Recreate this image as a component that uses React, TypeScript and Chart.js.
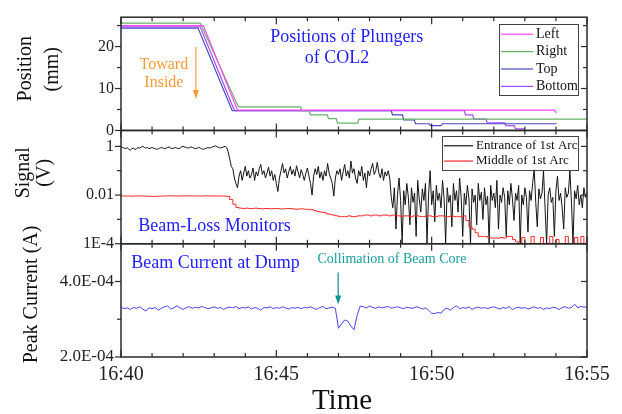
import React, { useEffect, useRef } from 'react';
import { Chart, registerables } from 'chart.js';

Chart.register(...registerables);

const SERIF = "'Liberation Serif', 'Times New Roman', Times, serif";

// ---------- shared x axis (minutes after 16:40) ----------
const xTickValues = [0, 5, 10, 15];
const xTickLabels = ['16:40', '16:45', '16:50', '16:55'];
const xMinorTicks = [1, 2, 3, 4, 6, 7, 8, 9, 11, 12, 13, 14];

// ---------- panel 1: plunger positions (mm) ----------
const posTicks = [0, 10, 20];
const posTickLabels = ['0', '10', '20'];
const posMinorTicks = [5, 15, 25];
const plungerNames = ['Left', 'Right', 'Top', 'Bottom'];
const plungerColors = ['#ff45ff', '#66b366', '#4848c4', '#a64dff'];
const leftTimes = [0, 2.65, 3.75, 13.95, 14.0];
const leftPos = [25.0, 25.0, 4.85, 4.85, 4.2];
const rightTimes = [0, 2.55, 3.78, 5.78, 5.82, 6.05, 6.1, 6.64, 6.68, 6.93, 6.97, 7.62, 7.66, 15];
const rightPos = [25.6, 25.6, 5.6, 5.6, 4.7, 4.7, 3.7, 3.7, 2.8, 2.8, 1.75, 1.75, 2.7, 2.7];
const topTimes = [0, 2.48, 3.58, 8.7, 8.74, 9.06, 9.1, 9.44, 9.48, 9.92, 9.96, 10.3, 10.34, 14.02];
const topPos = [24.4, 24.4, 4.7, 4.7, 3.7, 3.7, 2.5, 2.5, 1.6, 1.6, 1.15, 1.15, 1.6, 1.6];
const bottomTimes = [0, 2.55, 3.65, 11.05, 11.09, 11.32, 11.36, 11.75, 11.79, 12.35, 12.39, 12.66, 12.7, 13.0];
const bottomPos = [24.7, 24.7, 4.75, 4.75, 3.7, 3.7, 2.7, 2.7, 1.8, 1.8, 1.15, 1.15, 0.4, 0.4];

// ---------- panel 2: beam-loss monitor signals (V) ----------
const sigTicks = [1e-4, 1e-2, 1];
const sigTickLabels = ['1E-4', '0.01', '1'];
const sigMinorTicks = [1e-3, 1e-1];
const signalNames = ['Entrance of 1st Arc', 'Middle of 1st Arc'];
const signalColors = ['#151515', '#ff2a2a'];
const entranceStep = 0.05; // minutes between samples
const entranceSignal = [
  0.95, 0.9, 0.85, 0.8, 0.9, 0.75, 0.7, 0.8, 0.85, 0.75,
  0.8, 0.9, 0.85, 0.95, 1.0, 0.9, 0.85, 0.9, 0.8, 0.85,
  0.9, 0.85, 0.8, 0.75, 0.8, 0.85, 0.9, 0.85, 0.8, 0.85,
  0.9, 0.95, 0.85, 0.8, 0.85, 0.9, 0.85, 0.8, 0.85, 0.95,
  1.0, 0.95, 0.9, 0.85, 0.9, 0.95, 0.9, 0.85, 0.8, 0.85,
  0.9, 0.85, 0.8, 0.75, 0.8, 0.85, 0.9, 0.85, 0.9, 0.95,
  1.0, 1.05, 0.95, 0.9, 0.85, 0.9, 0.95, 1.0, 0.9,
  0.6, 0.3, 0.15,
  0.12, 0.05, 0.03, 0.02, 0.06, 0.1, 0.04, 0.08, 0.15, 0.06,
  0.1, 0.05, 0.07, 0.13, 0.04, 0.09, 0.06, 0.12, 0.18, 0.07,
  0.1, 0.05, 0.08, 0.14, 0.06, 0.1, 0.04, 0.07, 0.03, 0.014,
  0.05, 0.1, 0.2, 0.08, 0.12, 0.05, 0.09, 0.15, 0.07, 0.11,
  0.06, 0.16, 0.09, 0.05, 0.11, 0.07, 0.04, 0.08, 0.13, 0.06,
  0.03, 0.01, 0.06, 0.12, 0.07, 0.15, 0.05, 0.09, 0.04, 0.1,
  0.06, 0.2, 0.08, 0.05, 0.03, 0.009, 0.05, 0.1, 0.07, 0.12,
  0.04, 0.09, 0.18, 0.06, 0.1, 0.05, 0.25, 0.08, 0.12, 0.05,
  0.03, 0.1, 0.06, 0.15, 0.04, 0.08, 0.02, 0.1, 0.06, 0.12,
  0.2, 0.07, 0.1, 0.22, 0.08, 0.05, 0.12, 0.04, 0.09, 0.06,
  0.1, 0.05, 0.008,
  0.003, 0.02, 0.0004, 0.01, 0.05, 0.006, 0.0001, 0.015, 0.004, 0.03,
  0.008, 0.0006, 0.02, 0.005, 0.012, 0.0002, 0.04, 0.007, 0.002, 0.018,
  0.006, 0.03, 0.0001, 0.01, 0.1, 0.004, 0.015, 0.0008, 0.025, 0.006,
  0.012, 0.003, 0.04, 0.007, 0.0001, 0.02, 0.005, 0.01, 0.0005, 0.03,
  0.006, 0.015, 0.002, 0.05, 0.008, 0.0002, 0.012, 0.004, 0.025, 0.007,
  0.0001, 0.018, 0.005, 0.01, 0.0006, 0.03, 0.006, 0.013, 0.001, 0.02,
  0.004, 0.009, 0.0001, 0.025, 0.006, 0.012, 0.003, 0.04, 0.0004, 0.01,
  0.005, 0.02, 0.008, 0.0002, 0.015, 0.004, 0.03, 0.007, 0.0009, 0.012,
  0.006, 0.025, 0.0001, 0.01, 0.004, 0.02, 0.008, 0.0003, 0.015, 0.006,
  0.03, 0.12, 0.005, 0.0005, 0.018, 0.007, 0.012, 0.1, 0.003, 0.0001,
  0.01, 0.02, 0.005, 0.008, 0.0002, 0.015, 0.06, 0.006, 0.012, 0.003,
  0.0004, 0.02, 0.008, 0.012, 0.1, 0.005, 0.0001, 0.015, 0.007, 0.025,
  0.004, 0.01, 0.003, 0.02, 0.008, 0.012,
];
const middleStep = 0.1;
const middleSignal = [
  0.0092, 0.0091, 0.0092, 0.009, 0.0091, 0.0092, 0.0092, 0.0091, 0.009, 0.0089,
  0.0088, 0.0089, 0.009, 0.0091, 0.0092, 0.0093, 0.0092, 0.0092, 0.0091, 0.0092,
  0.0093, 0.0092, 0.0093, 0.0092, 0.0092, 0.0091, 0.0092, 0.0093, 0.0092, 0.0092,
  0.0091, 0.0091, 0.0092, 0.009, 0.0088, 0.0065, 0.0042, 0.0031,
  0.0029, 0.0028, 0.0029, 0.0028, 0.0028, 0.0029, 0.0028, 0.0027, 0.0028, 0.0028,
  0.0027, 0.0028, 0.0028, 0.0027, 0.0027, 0.0028, 0.0028, 0.0027, 0.0026, 0.0027,
  0.0027, 0.0026,
  0.0026, 0.0025, 0.0023, 0.0021, 0.002, 0.0019, 0.0017, 0.0016, 0.0015, 0.0014, 0.0013,
  0.0013, 0.0013, 0.0014, 0.0013, 0.0013, 0.0014, 0.0014, 0.0015, 0.0015, 0.0014,
  0.0015, 0.0015, 0.0014, 0.0015, 0.0015, 0.0014, 0.0015, 0.0014, 0.0014, 0.0013,
  0.0014, 0.0014, 0.0013, 0.0014, 0.0014, 0.0013, 0.0013, 0.0014, 0.0014, 0.0013,
  0.0013, 0.0014, 0.0014, 0.0013, 0.0013, 0.0014, 0.0013, 0.0013, 0.0013, 0.0014,
  0.0009, 0.0005, 0.0004, 0.00028, 0.0002, 0.0002, 0.0002, 0.00018, 0.00017, 0.00017,
  0.00017, 0.00018, 0.00017, 0.0002, 0.0002, 0.00015, 0.00012, 0.0001, 0.00018, 0.0001,
  0.0001, 0.0002, 0.0001, 0.0001, 0.00018, 0.0001, 0.0001, 0.0002, 0.0001, 0.00015,
  0.0001, 0.0001, 0.0002, 0.0001, 0.0001, 0.00018, 0.0001, 0.0002, 0.0001, 0.00015,
];

// ---------- panel 3: peak beam current at dump (A) ----------
const curTicks = [2e-4, 4e-4];
const curTickLabels = ['2.0E-04', '4.0E-04'];
const curMinorTicks = [3e-4];
const currentName = 'Beam Current at Dump';
const currentColor = '#4545ff';
const currentStep = 0.1;
const beamCurrent = [
  3.32e-4, 3.28e-4, 3.30e-4, 3.26e-4, 3.31e-4, 3.29e-4, 3.33e-4, 3.27e-4, 3.22e-4, 3.30e-4,
  3.28e-4, 3.31e-4, 3.24e-4, 3.29e-4, 3.33e-4, 3.35e-4, 3.27e-4, 3.30e-4, 3.36e-4, 3.30e-4,
  3.26e-4, 3.31e-4, 3.33e-4, 3.29e-4, 3.32e-4, 3.30e-4, 3.34e-4, 3.31e-4, 3.28e-4, 3.30e-4,
  3.33e-4, 3.29e-4, 3.31e-4, 3.26e-4, 3.30e-4, 3.32e-4, 3.30e-4, 3.34e-4, 3.28e-4, 3.31e-4,
  3.30e-4, 3.33e-4, 3.27e-4, 3.31e-4, 3.29e-4, 3.24e-4, 3.31e-4, 3.30e-4, 3.33e-4, 3.28e-4,
  3.31e-4, 3.29e-4, 3.33e-4, 3.30e-4, 3.27e-4, 3.31e-4, 3.29e-4, 3.32e-4, 3.28e-4, 3.31e-4,
  3.30e-4, 3.33e-4, 3.29e-4, 3.26e-4, 3.31e-4, 3.34e-4, 3.28e-4, 3.30e-4, 3.32e-4, 3.29e-4,
  2.76e-4, 2.88e-4, 2.98e-4, 2.95e-4, 2.82e-4, 2.72e-4, 3.10e-4, 3.35e-4, 3.33e-4, 3.30e-4,
  3.35e-4, 3.31e-4, 3.29e-4, 3.33e-4, 3.30e-4, 3.32e-4, 3.34e-4, 3.29e-4, 3.31e-4, 3.33e-4,
  3.30e-4, 3.28e-4, 3.32e-4, 3.30e-4, 3.29e-4, 3.33e-4, 3.31e-4, 3.27e-4, 3.30e-4, 3.24e-4,
  3.16e-4, 3.15e-4, 3.18e-4, 3.16e-4, 3.26e-4, 3.29e-4, 3.24e-4, 3.31e-4, 3.35e-4, 3.28e-4,
  3.31e-4, 3.29e-4, 3.33e-4, 3.26e-4, 3.30e-4, 3.32e-4, 3.29e-4, 3.31e-4, 3.28e-4, 3.31e-4,
  3.33e-4, 3.30e-4, 3.27e-4, 3.31e-4, 3.29e-4, 3.34e-4, 3.25e-4, 3.30e-4, 3.32e-4, 3.29e-4,
  3.31e-4, 3.27e-4, 3.30e-4, 3.33e-4, 3.29e-4, 3.31e-4, 3.26e-4, 3.30e-4, 3.28e-4, 3.32e-4,
  3.30e-4, 3.26e-4, 3.31e-4, 3.33e-4, 3.29e-4, 3.31e-4, 3.40e-4, 3.30e-4, 3.34e-4, 3.32e-4,
  3.33e-4,
];

// ---------- annotation colours ----------
const BLUE_TEXT = '#1f1fff';
const ORANGE = '#ff9a3a';
const TEAL = '#1aa0a0';

const pairs = (ts: number[], vs: number[]) => vs.map((v, i) => ({ x: ts[i], y: v }));
const sampled = (step: number, vs: number[]) => vs.map((v, i) => ({ x: i * step, y: v }));

function seg(ctx: CanvasRenderingContext2D, x1: number, y1: number, x2: number, y2: number) {
  ctx.beginPath();
  ctx.moveTo(x1, y1);
  ctx.lineTo(x2, y2);
  ctx.stroke();
}

function text(ctx: CanvasRenderingContext2D, s: string, x: number, y: number, size: number, color: string, align: CanvasTextAlign = 'center') {
  ctx.font = `${size}px ${SERIF}`;
  ctx.fillStyle = color;
  ctx.textAlign = align;
  ctx.textBaseline = 'middle';
  ctx.fillText(s, x, y);
}

function vtext(ctx: CanvasRenderingContext2D, s: string, x: number, y: number, size: number) {
  ctx.save();
  ctx.translate(x, y);
  ctx.rotate(-Math.PI / 2);
  text(ctx, s, 0, 0, size, '#111');
  ctx.restore();
}

function downArrow(ctx: CanvasRenderingContext2D, x: number, y1: number, y2: number, color: string) {
  ctx.strokeStyle = color;
  ctx.fillStyle = color;
  ctx.lineWidth = 1.2;
  seg(ctx, x, y1, x, y2 - 6);
  ctx.beginPath();
  ctx.moveTo(x - 3, y2 - 9);
  ctx.lineTo(x + 3, y2 - 9);
  ctx.lineTo(x, y2);
  ctx.closePath();
  ctx.fill();
}

function legendBox(ctx: CanvasRenderingContext2D, left: number, top: number, w: number, h: number,
  first: number, gap: number, lineLen: number, names: string[], colors: string[], size: number) {
  ctx.fillStyle = '#fff';
  ctx.fillRect(left, top, w, h);
  ctx.strokeStyle = '#444';
  ctx.lineWidth = 1;
  ctx.strokeRect(Math.round(left) + 0.5, Math.round(top) + 0.5, w, h);
  names.forEach((n, i) => {
    const y = top + first + i * gap;
    ctx.strokeStyle = colors[i];
    ctx.lineWidth = 1.2;
    seg(ctx, left + 2, y, left + 2 + lineLen, y);
    text(ctx, n, left + lineLen + 5, y, size, '#111', 'left');
  });
}

const decorPlugin = {
  id: 'decor',
  afterDraw(chart: any) {
    const ctx: CanvasRenderingContext2D = chart.ctx;
    const x = chart.scales.x;
    const yPos = chart.scales.yPos;
    const ySig = chart.scales.ySig;
    const yCur = chart.scales.yCur;
    const panels = [
      { s: yPos, major: posTicks, minor: posMinorTicks },
      { s: ySig, major: sigTicks, minor: sigMinorTicks },
      { s: yCur, major: curTicks, minor: curMinorTicks },
    ];
    ctx.save();
    for (const p of panels) {
      const top = p.s.top;
      const bottom = p.s.bottom;
      const left = x.left;
      const right = x.right;
      ctx.strokeStyle = '#2a2a2a';
      ctx.lineWidth = 1.5;
      ctx.strokeRect(left, top, right - left, bottom - top);
      ctx.lineWidth = 1.2;
      for (const t of xTickValues) {
        const px = x.getPixelForValue(t);
        seg(ctx, px, top, px, top + 7);
        seg(ctx, px, bottom, px, bottom - 7);
      }
      for (const t of xMinorTicks) {
        const px = x.getPixelForValue(t);
        seg(ctx, px, top, px, top + 4);
        seg(ctx, px, bottom, px, bottom - 4);
      }
      for (const v of p.major) {
        const py = p.s.getPixelForValue(v);
        seg(ctx, left - 6, py, left, py);
        seg(ctx, right - 6, py, right, py);
      }
      for (const v of p.minor) {
        const py = p.s.getPixelForValue(v);
        seg(ctx, left - 4, py, left, py);
        seg(ctx, right - 4, py, right, py);
      }
    }

    // axis titles
    vtext(ctx, 'Position', 26, yPos.top + 51.5, 20);
    vtext(ctx, '(mm)', 53, yPos.top + 52, 20);
    vtext(ctx, 'Signal', 24, ySig.top + 42.3, 20);
    vtext(ctx, '(V)', 45, ySig.top + 42.3, 20);
    vtext(ctx, 'Peak Current (A)', 32, yCur.top + 50.7, 20);
    text(ctx, 'Time', 342, x.bottom - 13, 29, '#111');

    // legends
    legendBox(ctx, x.right - 88, yPos.top + 7, 79, 71, 10, 17.4, 32, plungerNames, plungerColors, 14);
    legendBox(ctx, x.right - 145, ySig.top + 5.3, 136, 34, 10, 15.3, 29, signalNames, signalColors, 13);

    // annotations
    text(ctx, 'Positions of Plungers', x.getPixelForValue(7.27), yPos.getPixelForValue(22.2), 18, BLUE_TEXT);
    text(ctx, 'of COL2', x.getPixelForValue(6.95), yPos.getPixelForValue(17.2), 18, BLUE_TEXT);
    text(ctx, 'Toward', x.getPixelForValue(1.38), yPos.getPixelForValue(15.6), 16, ORANGE);
    text(ctx, 'Inside', x.getPixelForValue(1.38), yPos.getPixelForValue(11.4), 16, ORANGE);
    downArrow(ctx, x.getPixelForValue(2.41), yPos.getPixelForValue(19.9), yPos.getPixelForValue(7.5), ORANGE);
    text(ctx, 'Beam-Loss Monitors', x.getPixelForValue(3.01), ySig.getPixelForValue(5.2e-4), 18, BLUE_TEXT);
    text(ctx, currentName, x.getPixelForValue(3.04), yCur.getPixelForValue(4.49e-4), 18, BLUE_TEXT);
    text(ctx, 'Collimation of Beam Core', x.getPixelForValue(8.72), yCur.getPixelForValue(4.6e-4), 14, TEAL);
    downArrow(ctx, x.getPixelForValue(6.99), yCur.getPixelForValue(4.24e-4), yCur.getPixelForValue(3.39e-4), '#119090');
    ctx.restore();
  },
};

const tickFont = (size: number) => ({ family: SERIF, size });

function yAxis(extra: any, labels: string[], ticks: number[], size: number) {
  return {
    position: 'left',
    stack: 'panels',
    stackWeight: 1,
    grid: { display: false, drawTicks: false },
    border: { display: false },
    afterBuildTicks: (s: any) => { s.ticks = ticks.map((v) => ({ value: v })); },
    afterFit: (s: any) => { s.width = 121; },
    ticks: {
      callback: (_v: any, i: number) => labels[i],
      font: tickFont(size),
      color: '#222',
      padding: 7,
      autoSkip: false,
    },
    ...extra,
  };
}

export default function App() {
  const ref = useRef<HTMLCanvasElement>(null);
  useEffect(() => {
    const chart = new Chart(ref.current as HTMLCanvasElement, {
      type: 'line',
      data: {
        datasets: [
          { label: plungerNames[0], data: pairs(leftTimes, leftPos), yAxisID: 'yPos', borderColor: plungerColors[0], borderWidth: 1.2 },
          { label: plungerNames[1], data: pairs(rightTimes, rightPos), yAxisID: 'yPos', borderColor: plungerColors[1], borderWidth: 1.2 },
          { label: plungerNames[2], data: pairs(topTimes, topPos), yAxisID: 'yPos', borderColor: plungerColors[2], borderWidth: 1.2 },
          { label: plungerNames[3], data: pairs(bottomTimes, bottomPos), yAxisID: 'yPos', borderColor: plungerColors[3], borderWidth: 1.2 },
          { label: signalNames[1], data: sampled(middleStep, middleSignal), yAxisID: 'ySig', borderColor: signalColors[1], borderWidth: 1, stepped: true },
          { label: signalNames[0], data: sampled(entranceStep, entranceSignal), yAxisID: 'ySig', borderColor: signalColors[0], borderWidth: 1 },
          { label: currentName, data: sampled(currentStep, beamCurrent), yAxisID: 'yCur', borderColor: currentColor, borderWidth: 1 },
        ] as any,
      },
      options: {
        responsive: false,
        animation: false,
        devicePixelRatio: 1,
        events: [],
        elements: { point: { radius: 0 }, line: { tension: 0 } },
        layout: { padding: { left: 0, right: 35, top: 7, bottom: 0 } },
        plugins: { legend: { display: false }, tooltip: { enabled: false } },
        scales: {
          x: {
            type: 'linear',
            position: 'bottom',
            min: 0,
            max: 15,
            grid: { display: false, drawTicks: false },
            border: { display: false },
            afterBuildTicks: (s: any) => { s.ticks = xTickValues.map((v) => ({ value: v })); },
            afterFit: (s: any) => { s.height = 57; },
            ticks: {
              callback: (_v: any, i: number) => xTickLabels[i],
              font: tickFont(20),
              color: '#222',
              padding: 6,
              maxRotation: 0,
              autoSkip: false,
            },
          },
          yCur: yAxis({ type: 'linear', min: 2e-4, max: 5e-4 }, curTickLabels, curTicks, 17),
          ySig: yAxis({ type: 'logarithmic', min: 1e-4, max: 4.5 }, sigTickLabels, sigTicks, 16),
          yPos: yAxis({ type: 'linear', min: 0, max: 27 }, posTickLabels, posTicks, 16),
        } as any,
      },
      plugins: [decorPlugin],
    });
    return () => chart.destroy();
  }, []);
  return (
    <div style={{ position: 'absolute', left: 0, top: 0, width: 622, height: 414, background: '#fff' }}>
      <canvas ref={ref} width={622} height={414} style={{ display: 'block' }} />
    </div>
  );
}
